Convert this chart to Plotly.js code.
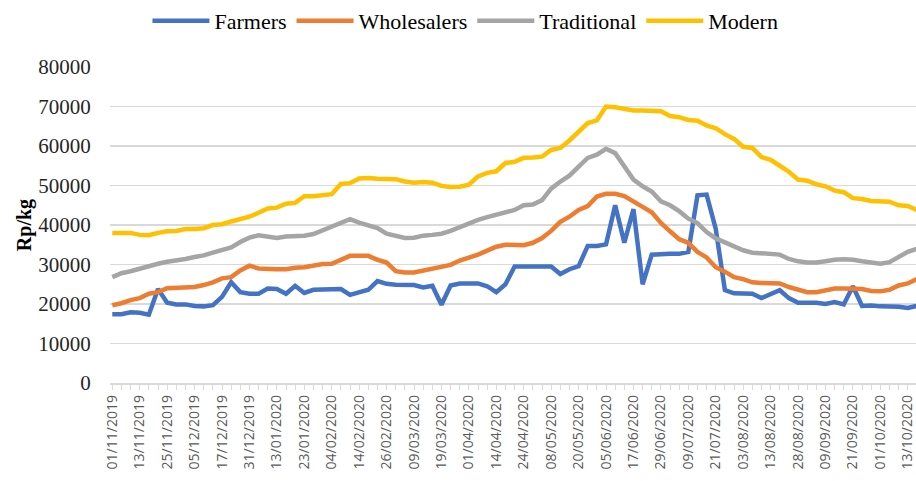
<!DOCTYPE html>
<html>
<head>
<meta charset="utf-8">
<script src="https://cdn.plot.ly/plotly-3.0.1.min.js"></script>
<style>
html,body{margin:0;padding:0;background:#fff;}
#chart{width:916px;height:481px;}
</style>
</head>
<body>
<div id="chart"></div>
<script>
// Categories (sampled trading days, every third day)
const categories = [
'01/11/2019','05/11/2019','09/11/2019',
'13/11/2019','17/11/2019','21/11/2019',
'25/11/2019','28/11/2019','02/12/2019',
'05/12/2019','09/12/2019','13/12/2019',
'17/12/2019','21/12/2019','26/12/2019',
'31/12/2019','04/01/2020','08/01/2020',
'13/01/2020','16/01/2020','20/01/2020',
'23/01/2020','27/01/2020','31/01/2020',
'04/02/2020','07/02/2020','11/02/2020',
'14/02/2020','18/02/2020','22/02/2020',
'26/02/2020','01/03/2020','05/03/2020',
'09/03/2020','12/03/2020','16/03/2020',
'19/03/2020','23/03/2020','27/03/2020',
'01/04/2020','05/04/2020','09/04/2020',
'14/04/2020','17/04/2020','21/04/2020',
'24/04/2020','28/04/2020','03/05/2020',
'08/05/2020','12/05/2020','16/05/2020',
'20/05/2020','25/05/2020','31/05/2020',
'05/06/2020','09/06/2020','13/06/2020',
'17/06/2020','21/06/2020','25/06/2020',
'29/06/2020','02/07/2020','06/07/2020',
'09/07/2020','13/07/2020','17/07/2020',
'21/07/2020','25/07/2020','29/07/2020',
'03/08/2020','06/08/2020','10/08/2020',
'13/08/2020','18/08/2020','23/08/2020',
'28/08/2020','01/09/2020','05/09/2020',
'09/09/2020','13/09/2020','17/09/2020',
'21/09/2020','24/09/2020','28/09/2020',
'01/10/2020','05/10/2020','09/10/2020',
'13/10/2020','15/10/2020'];

// Tick labels shown on the x axis
const tickLabels = ['01/11/2019','13/11/2019','25/11/2019','05/12/2019','17/12/2019','31/12/2019',
'13/01/2020','23/01/2020','04/02/2020','14/02/2020','26/02/2020','09/03/2020','19/03/2020',
'01/04/2020','14/04/2020','24/04/2020','08/05/2020','20/05/2020','05/06/2020','17/06/2020',
'29/06/2020','09/07/2020','21/07/2020','03/08/2020','13/08/2020','28/08/2020','09/09/2020',
'21/09/2020','01/10/2020','13/10/2020'];

const seriesNames = ['Farmers','Wholesalers','Traditional','Modern'];

const farmers = [
17400,17400,17900,17800,17300,23800,20300,19900,19900,19500,
19400,19700,21800,25500,23000,22600,22600,23900,23800,22600,
24600,22800,23600,23600,23700,23800,22300,23000,23600,25800,
25100,24900,24900,24800,24200,24600,19800,24700,25200,25200,
25200,24500,23000,25000,29500,29500,29500,29400,29500,27600,
28800,29600,34700,34700,35100,45000,35500,44000,25000,32500,
32700,32700,32700,33200,47500,47700,39000,23500,22700,22700,
22600,21500,22400,23500,21500,20300,20300,20300,20000,20500,
19900,24500,19500,19600,19400,19400,19300,19000,19500];

const wholesalers = [
19700,20200,21000,21500,22600,23000,24000,24100,24200,24300,
24800,25500,26500,26800,28500,29700,29000,28800,28800,28800,
29200,29300,29800,30100,30200,31200,32200,32200,32200,31200,
30500,28300,28000,28000,28500,28800,29500,29900,31000,31700,
32500,33500,34500,35000,34900,34900,35500,36700,38500,40800,
42100,43800,44800,47200,47900,47900,47300,45800,44600,43200,
40500,38400,36400,35500,33200,31800,29300,28200,26800,26300,
25500,25300,25300,25200,24300,23600,23000,23000,23500,23900,
23900,23900,23800,23300,23200,23600,24700,25200,26300];

const traditional = [
26800,27800,28300,29000,29700,30200,30700,31000,31400,31900,
32300,33000,33800,34300,35700,36800,37400,37000,36700,37100,
37100,37300,37700,38600,39400,40400,41500,40600,39800,39200,
37800,37200,36700,36800,37300,37500,37800,38500,39400,40600,
41300,42000,42600,43200,43800,45000,45200,46300,49200,51000,
52500,54800,57000,57800,59300,58200,55000,51500,49800,48500,
46000,45000,43500,41600,40500,38200,36600,35600,34300,33600,
33000,32800,32800,32500,31400,30800,30500,30500,30800,31200,
31300,31200,30800,30600,30200,30600,31800,33200,34000];

const modern = [
38000,38000,38000,37500,37400,38000,38400,38500,39000,39000,
39200,40000,40200,40900,41500,42100,43100,44200,44400,45400,
45600,47300,47300,47500,47800,50400,50600,51800,51900,51700,
51600,51600,51000,50700,50900,50700,49900,49600,49700,50200,
52300,53200,53600,55700,56000,57000,57100,57300,59000,59500,
61400,63500,65800,66500,70000,69800,69500,69000,69000,69000,
68800,67600,67300,66600,66400,65200,64500,63000,61800,59800,
59500,57200,56500,55000,53500,51500,51200,50300,49800,48700,
48300,46800,46600,46100,46000,45900,45000,44800,43800];

const colors = ['#4472C4','#ED7D31','#A5A5A5','#FFC000'];
const allSeries = [farmers, wholesalers, traditional, modern];

const traces = allSeries.map((vals, i) => ({
  type: 'scatter',
  mode: 'lines',
  name: seriesNames[i],
  x: categories,
  y: vals,
  line: {color: colors[i], width: 4.5},
  hoverinfo: 'skip'
}));

const tickText = categories.map(c => tickLabels.includes(c) ? c : '');

const layout = {
  width: 916,
  height: 481,
  margin: {l: 110, r: 0, t: 63, b: 98},
  paper_bgcolor: '#ffffff',
  plot_bgcolor: '#ffffff',
  showlegend: true,
  legend: {
    orientation: 'h',
    x: 0.441, xanchor: 'center',
    y: 1.147, yanchor: 'middle',
    itemwidth: 57,
    font: {family: 'Liberation Serif', size: 22, color: '#000000'},
    bgcolor: 'rgba(0,0,0,0)'
  },
  xaxis: {
    type: 'category',
    categoryorder: 'array',
    categoryarray: categories,
    range: [-0.25, 87.9],
    tickmode: 'array',
    tickvals: categories,
    ticktext: tickText,
    tickangle: -90,
    tickfont: {family: 'Open Sans', size: 14, color: '#595959'},
    ticks: 'outside',
    ticklen: 5,
    tickwidth: 1,
    tickcolor: '#d9d9d9',
    showline: true,
    linecolor: '#d9d9d9',
    linewidth: 1.5,
    showgrid: false,
    zeroline: false,
    automargin: false
  },
  yaxis: {
    range: [0, 80000],
    tickmode: 'linear',
    tick0: 0,
    dtick: 10000,
    tickformat: 'd',
    showgrid: true,
    gridcolor: '#d9d9d9',
    gridwidth: 1.5,
    zeroline: false,
    showline: false,
    ticks: 'outside',
    ticklen: 14,
    tickcolor: 'rgba(0,0,0,0)',
    tickfont: {family: 'Liberation Serif', size: 21, color: '#262626'},
    title: {text: '<b>Rp/kg</b>', font: {family: 'Liberation Serif', size: 20, color: '#000000'}},
    automargin: false
  }
};

Plotly.newPlot('chart', traces, layout, {staticPlot: true, displayModeBar: false});
</script>
</body>
</html>
